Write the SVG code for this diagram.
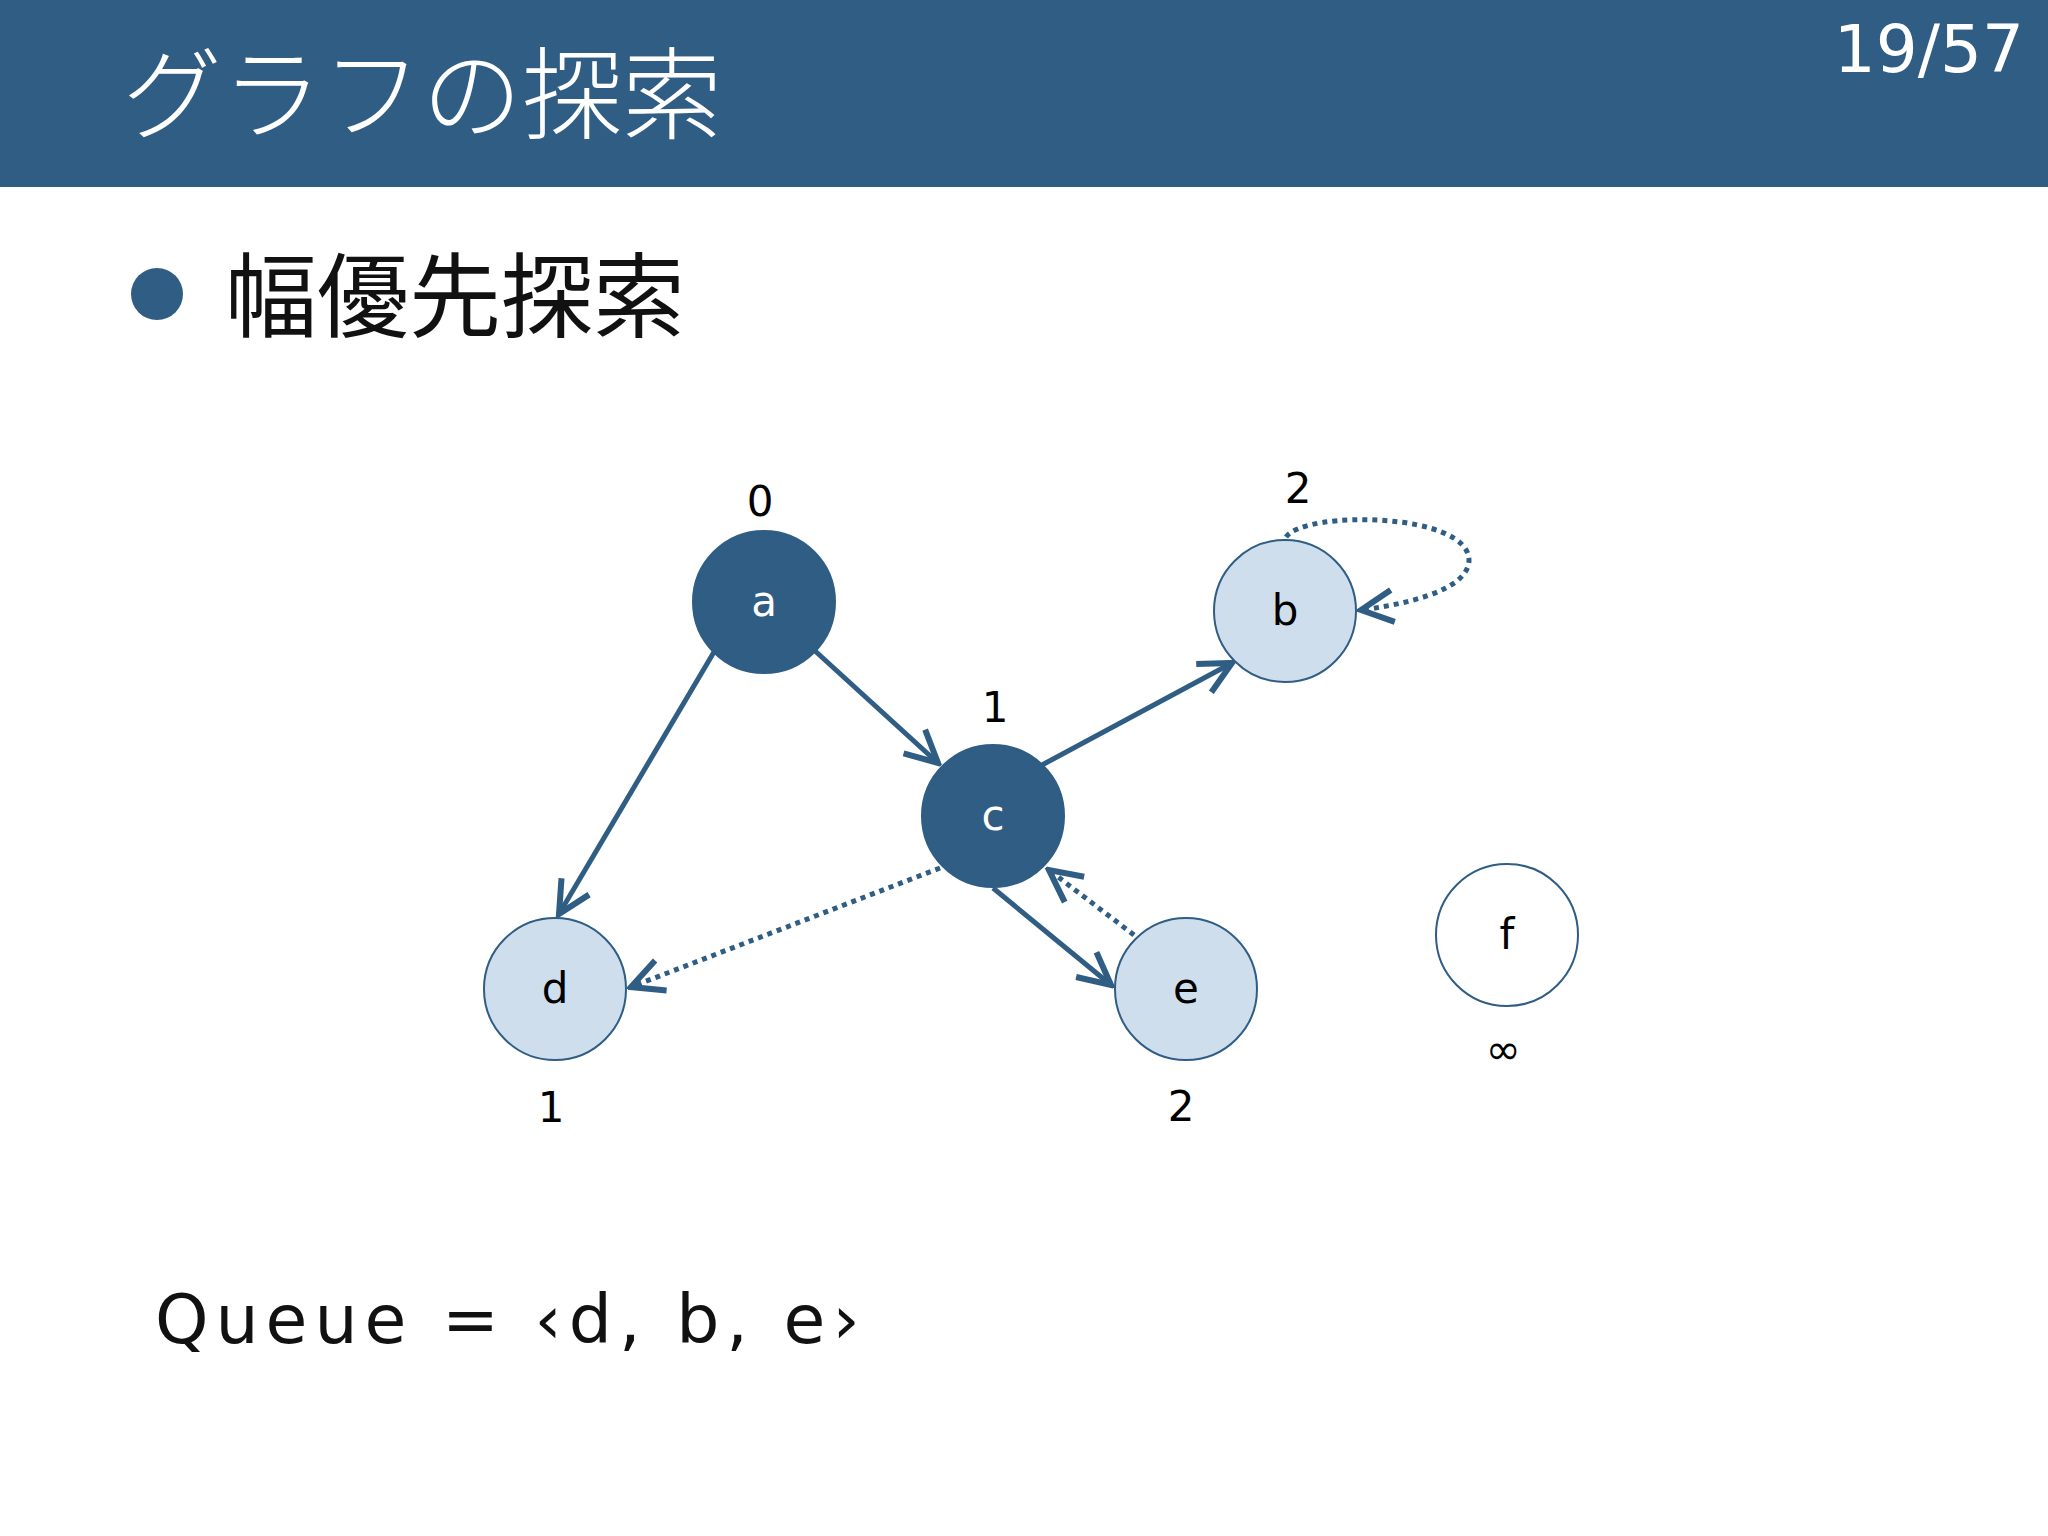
<svg xmlns="http://www.w3.org/2000/svg" width="2048" height="1536" viewBox="0 0 2048 1536">
<style>
.n{stroke:#2f5d83;stroke-width:2}
.dark{fill:#2f5d83}
.light{fill:#cfdeed}
.white{fill:#fff}
.lt{font-family:"DejaVu Sans",sans-serif;font-size:42px;text-anchor:middle}
.e{fill:none;stroke:#2f5d83;stroke-width:5;marker-end:url(#ah)}
.d{stroke-dasharray:5 5;stroke-width:5}
</style>
<defs>
<marker id="ah" viewBox="0 0 20 20" refX="18" refY="10" markerWidth="8" markerHeight="8" orient="auto" markerUnits="strokeWidth">
<path d="M2,2 L18,10 L2,18" fill="none" stroke="#2f5d83" stroke-width="3"/>
</marker>
</defs>
<rect x="0" y="0" width="2048" height="187" fill="#2f5d83"/>
<text x="122" y="131" font-family="'Noto Sans CJK JP',sans-serif" font-size="100" font-weight="300" fill="#fff">グラフの探索</text>
<text x="2024" y="72" font-family="'DejaVu Sans',sans-serif" font-size="66" fill="#fff" text-anchor="end">19/57</text>
<circle cx="157" cy="294" r="26" fill="#2f5d83"/>
<text x="225" y="330" font-family="'Noto Sans CJK JP',sans-serif" font-size="92" fill="#111">幅優先探索</text>
<g id="edges">
<path class="e" d="M814,650 L938,763"/>
<path class="e" d="M714,652 L559,914"/>
<path class="e" d="M1042,765 L1232,663"/>
<path class="e" d="M993,888 L1111,985"/>
<path class="e d" d="M940,868 L631,987"/>
<path class="e d" d="M1134,935 L1049,870"/>
<path class="e d" d="M1286,537 C1305,510 1470,512 1469,561 C1467,592 1400,605 1361,610"/>
</g>
<g id="a"><circle class="n dark" cx="764" cy="602" r="71"/><text class="lt" x="764" y="616" fill="#fff">a</text></g>
<g id="b"><circle class="n light" cx="1285" cy="611" r="71"/><text class="lt" x="1285" y="625">b</text></g>
<g id="c"><circle class="n dark" cx="993" cy="816" r="71"/><text class="lt" x="993" y="830" fill="#fff">c</text></g>
<g id="d"><circle class="n light" cx="555" cy="989" r="71"/><text class="lt" x="555" y="1003">d</text></g>
<g id="e"><circle class="n light" cx="1186" cy="989" r="71"/><text class="lt" x="1186" y="1003">e</text></g>
<g id="f"><circle class="n white" cx="1507" cy="935" r="71"/><text class="lt" x="1507" y="949">f</text></g>
<g class="lt">
<text x="760" y="516">0</text>
<text x="1298" y="503">2</text>
<text x="995" y="722">1</text>
<text x="551" y="1122">1</text>
<text x="1181" y="1121">2</text>
<text x="1503" y="1064">∞</text>
</g>
<text x="155" y="1343" font-family="'DejaVu Sans',sans-serif" font-size="68" letter-spacing="7" fill="#111">Queue = ‹d, b, e›</text>
</svg>
